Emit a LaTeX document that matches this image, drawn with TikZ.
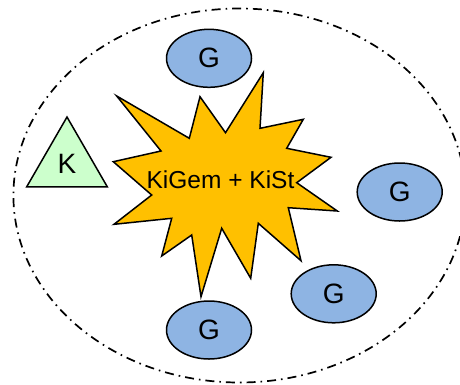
\documentclass[tikz,border=0pt]{standalone}
\usepackage{fontspec}
\setmainfont{Liberation Sans}
\usetikzlibrary{shapes.geometric}
\definecolor{starfill}{HTML}{FFC000}
\definecolor{gfill}{HTML}{8EB4E3}
\definecolor{kfill}{HTML}{CCFFCC}
\tikzset{
  gnode/.style={ellipse, draw=black, line width=1.5pt, fill=gfill, minimum width=85pt, minimum height=58pt, inner sep=0pt, font=\fontsize{28}{28}\selectfont},
  knode/.style={regular polygon, regular polygon sides=3, draw=black, line width=1.5pt, fill=kfill, minimum size=93pt, inner sep=0pt, font=\fontsize{28}{28}\selectfont},
  burst/.style={draw=black, line width=1.5pt, fill=starfill, line join=miter},
  boundary/.style={draw=black, line width=1.7pt, dash pattern=on 9pt off 5pt on 1.6pt off 5pt},
  startext/.style={font=\fontsize{24.5}{24.5}\selectfont, inner sep=0pt}
}
\begin{document}
\begin{tikzpicture}[x=1pt,y=-1pt]
\useasboundingbox (0,0) rectangle (460,384);
\clip (0,0) rectangle (460,384);
\draw[boundary] (239.4,195.5) ellipse [x radius=226, y radius=187];
\node[gnode] (g1) at (209,58.3) {G};
\node[gnode] (g2) at (399.7,192) {G};
\node[gnode] (g3) at (333.7,293.8) {G};
\node[gnode] (g4) at (209,330) {G};
\node[knode] (k) at (67,163.5) {K};
\draw[burst] (116.7,96) -- (189.3,138.3) -- (200,96.7) -- (225.5,132.7) -- (263.3,72.7)
  -- (260,128.3) -- (303.3,119.3) -- (286.7,148.3) -- (331,157.3) -- (296.7,182.7)
  -- (337.3,211) -- (288.3,207.7) -- (301,260.7) -- (258.3,223.3) -- (250.7,278.3)
  -- (221.7,228.3) -- (201,296.7) -- (191.7,235) -- (161.7,256) -- (171.7,218.3)
  -- (114,224.3) -- (151.7,195) -- (113.3,161.7) -- (161,151) -- cycle;
\node[startext] (star) at (220.5,180) {KiGem + KiSt};
\end{tikzpicture}
\end{document}
